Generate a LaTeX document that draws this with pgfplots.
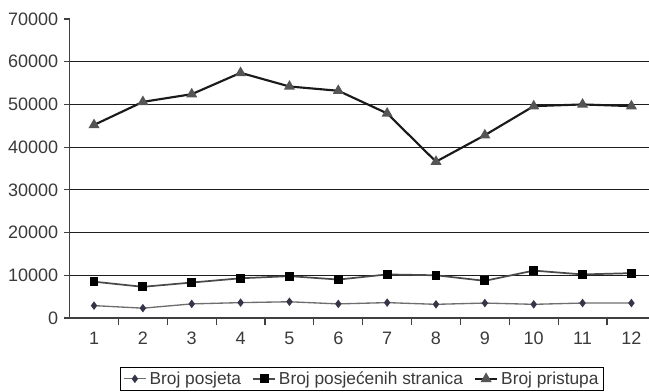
\documentclass[border=0pt]{standalone}
\usepackage{fontspec}
\setmainfont{Liberation Sans}
\usepackage{pgfplots}
\pgfplotsset{compat=1.18}
\definecolor{txt}{HTML}{3A3A3A}
\definecolor{gridc}{HTML}{1E1E1E}
\definecolor{axc}{HTML}{404040}
\definecolor{s1}{HTML}{6E6E6E}
\definecolor{s1m}{HTML}{35354A}
\definecolor{s2}{HTML}{4A4A4A}
\definecolor{s3}{HTML}{1A1A1A}
\definecolor{s3m}{HTML}{555555}
\begin{document}
\begin{tikzpicture}[x=0.75pt,y=0.75pt]
\begin{axis}[
  at={(0,0)}, anchor=south west,
  scale only axis,
  width=434.55pt, height=224.25pt,
  xmin=0.5, xmax=12.36, ymin=0, ymax=70000,
  scaled y ticks=false,
  axis lines*=left,
  axis line style={axc, line width=0.9pt},
  xtick={1,...,12},
  major x tick style={draw=none},
  minor xtick={1.5,2.5,...,11.5},
  minor x tick style={axc, line width=0.8pt},
  minor tick length=5.5pt,
  ytick={0,10000,...,70000},
  major y tick style={axc, line width=0.8pt},
  major tick length=4pt,
  tick align=outside,
  extra y ticks={10000,20000,...,60000},
  extra y tick labels={},
  extra y tick style={grid=major, major tick length=0pt, major grid style={gridc, line width=0.9pt}},
  /pgf/number format/1000 sep={},
  /pgf/number format/assume math mode=true,
  tick label style={font=\fontsize{13.5}{15}\selectfont, text=txt},
  xticklabel style={yshift=-3pt},
  yticklabel style={xshift=-1pt},
  legend style={at={(0.5047,-0.164)}, anchor=north, legend columns=3,
    draw=black, line width=0.6pt, font=\fontsize{13}{15}\selectfont, text=txt,
    inner xsep=2pt, inner ysep=1pt,
    /tikz/every even column/.append style={column sep=6pt}},
  legend cell align=left,
  clip=false,
]
\addplot[s1, line width=1pt, mark=diamond*, mark size=2.4pt, mark options={fill=s1m, draw=s1m}]
 coordinates {(1,2900)(2,2300)(3,3300)(4,3600)(5,3800)(6,3300)(7,3600)(8,3200)(9,3500)(10,3200)(11,3500)(12,3500)};
\addlegendentry{Broj posjeta}
\addplot[s2, line width=1.3pt, mark=square*, mark size=2.7pt, mark options={fill=black, draw=black}]
 coordinates {(1,8500)(2,7300)(3,8300)(4,9300)(5,9800)(6,9000)(7,10200)(8,10000)(9,8700)(10,11100)(11,10200)(12,10500)};
\addlegendentry{Broj posjećenih stranica}
\addplot[s3, line width=1.6pt, mark=triangle*, mark size=3.2pt, mark options={fill=s3m, draw=s3m}]
 coordinates {(1,45200)(2,50600)(3,52400)(4,57400)(5,54200)(6,53200)(7,47900)(8,36600)(9,42800)(10,49600)(11,50000)(12,49600)};
\addlegendentry{Broj pristupa}
\end{axis}
\pgfresetboundingbox
\path[use as bounding box] (-69.6,-74) rectangle (579.4,318);
\end{tikzpicture}
\end{document}
